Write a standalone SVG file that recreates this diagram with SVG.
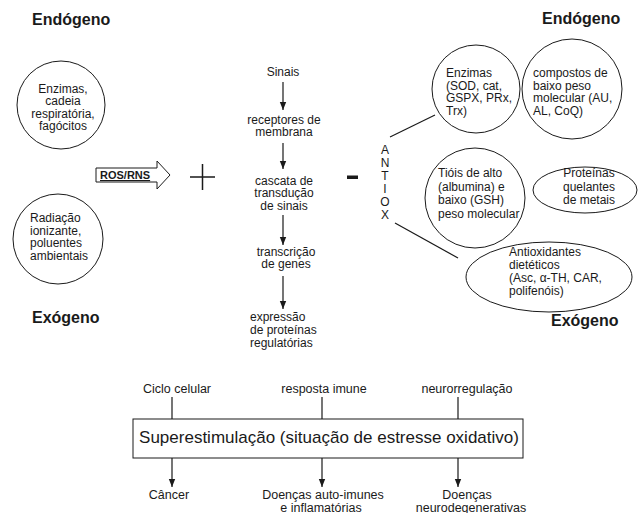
<svg xmlns="http://www.w3.org/2000/svg" width="641" height="513" viewBox="0 0 641 513">
<defs>
<style>
text{font-family:"Liberation Sans",Arial,sans-serif;fill:#1a1a1a}
.t{font-size:12px}
.c{font-size:12px;text-anchor:middle}
.h{font-size:16px;font-weight:bold}
.m{text-anchor:middle}
.s{fill:none;stroke:#1a1a1a;stroke-width:1}
.ln{stroke:#1a1a1a;stroke-width:1.2;fill:none}
</style>
<marker id="ah" viewBox="0 0 10 10" refX="10" refY="5" markerWidth="8" markerHeight="10" markerUnits="userSpaceOnUse" orient="auto">
<path d="M0,1 L10,5 L0,9 Z" fill="#1a1a1a"/>
</marker>
</defs>
<rect width="641" height="513" fill="#fff"/>

<text class="h" x="32" y="25">Endógeno</text>
<text class="h" x="32" y="323">Exógeno</text>
<text class="h" x="542" y="24">Endógeno</text>
<text class="h" x="551" y="326">Exógeno</text>

<g id="enzimas-left">
<circle class="s" cx="61" cy="105" r="44"/>
<text class="t m" x="63" y="92.5">Enzimas,</text>
<text class="t m" x="63" y="105">cadeia</text>
<text class="t m" x="63" y="117.5">respiratória,</text>
<text class="t m" x="63" y="130">fagócitos</text>
</g>

<g id="radiacao">
<circle class="s" cx="58" cy="239" r="45"/>
<text class="t" x="30" y="222">Radiação</text>
<text class="t" x="30" y="234.5">ionizante,</text>
<text class="t" x="30" y="247">poluentes</text>
<text class="t" x="30" y="259.5">ambientais</text>
</g>

<g id="ros">
<polygon class="s" points="96,168 157,168 157,161 170,175 157,189 157,182 96,182"/>
<text x="100" y="179" style="font-size:11px;font-weight:bold;text-decoration:underline">ROS/RNS</text>
</g>

<g id="plus"><path class="ln" d="M190,177 H215 M202.5,164 V190" style="stroke-width:1.5"/></g>
<g id="minus"><rect x="347" y="175.5" width="11" height="3.5" fill="#1a1a1a"/></g>

<g id="sinais"><text class="c" x="283" y="76">Sinais</text></g>
<g id="receptores"><text class="c" x="284" y="123.5">receptores de</text><text class="c" x="284" y="136">membrana</text></g>
<g id="cascata"><text class="c" x="284" y="184.5">cascata de</text><text class="c" x="284" y="197">transdução</text><text class="c" x="284" y="209.5">de sinais</text></g>
<g id="transcricao"><text class="c" x="286" y="255.5">transcrição</text><text class="c" x="286" y="268">de genes</text></g>
<g id="expressao"><text class="t" x="250" y="321">expressão</text><text class="t" x="250" y="334">de proteínas</text><text class="t" x="250" y="347">regulatórias</text></g>

<g id="antiox">
<text class="t m" x="385" y="154">A</text>
<text class="t m" x="385" y="167">N</text>
<text class="t m" x="385" y="180">T</text>
<text class="t m" x="385" y="193">I</text>
<text class="t m" x="385" y="206">O</text>
<text class="t m" x="385" y="219">X</text>
</g>

<g id="enzimas-right">
<circle class="s" cx="476" cy="89" r="44"/>
<text class="t" x="446" y="77">Enzimas</text>
<text class="t" x="446" y="89.5">(SOD, cat,</text>
<text class="t" x="446" y="102">GSPX, PRx,</text>
<text class="t" x="446" y="114.5">Trx)</text>
</g>

<g id="compostos">
<circle class="s" cx="572" cy="89" r="50"/>
<text class="t" x="533" y="77">compostos de</text>
<text class="t" x="533" y="89.5">baixo peso</text>
<text class="t" x="533" y="102">molecular (AU,</text>
<text class="t" x="533" y="114.5">AL, CoQ)</text>
</g>

<g id="tiois">
<circle class="s" cx="475" cy="198" r="50"/>
<text class="t" x="438" y="177">Tióis de alto</text>
<text class="t" x="438" y="190.5">(albumina) e</text>
<text class="t" x="438" y="204">baixo (GSH)</text>
<text class="t" x="438" y="217.5">peso molecular</text>
</g>

<g id="proteinas">
<ellipse class="s" cx="585" cy="190" rx="52" ry="23"/>
<text class="t m" x="589" y="177">Proteínas</text>
<text class="t m" x="589" y="190.5">quelantes</text>
<text class="t m" x="589" y="204">de metais</text>
</g>

<g id="dieteticos">
<ellipse class="s" cx="549" cy="277" rx="83" ry="35"/>
<text class="t" x="509" y="256">Antioxidantes</text>
<text class="t" x="509" y="269">dietéticos</text>
<text class="t" x="509" y="282">(Asc, α-TH, CAR,</text>
<text class="t" x="509" y="295">polifenóis)</text>
</g>

<g id="ciclo"><text class="t m" x="177" y="393" style="font-size:12.5px">Ciclo celular</text></g>
<g id="resposta"><text class="t m" x="324" y="393" style="font-size:12.5px">resposta imune</text></g>
<g id="neuro"><text class="t m" x="467" y="393" style="font-size:12.5px">neurorregulação</text></g>

<g id="superestimulacao">
<rect class="s" x="133" y="419" width="390" height="39"/>
<text class="m" x="329" y="443" style="font-size:17px">Superestimulação (situação de estresse oxidativo)</text>
</g>

<g id="cancer"><text class="t m" x="169" y="498.5" style="font-size:12.5px">Câncer</text></g>
<g id="autoimunes"><text class="t m" x="323" y="498.5" style="font-size:12.5px">Doenças auto-imunes</text><text class="t m" x="321" y="511.5" style="font-size:12.5px">e inflamatórias</text></g>
<g id="neurodeg"><text class="t m" x="467" y="498.5" style="font-size:12.5px">Doenças</text><text class="t m" x="471" y="511.5" style="font-size:12.5px">neurodegenerativas</text></g>

<g id="connectors">
<line class="ln" x1="283" y1="82" x2="283" y2="110" marker-end="url(#ah)"/>
<line class="ln" x1="283" y1="143" x2="283" y2="169" marker-end="url(#ah)"/>
<line class="ln" x1="283" y1="215" x2="283" y2="245" marker-end="url(#ah)"/>
<line class="ln" x1="283" y1="276" x2="283" y2="309" marker-end="url(#ah)"/>
<line class="ln" x1="390" y1="137" x2="435" y2="115"/>
<line class="ln" x1="395" y1="223" x2="458" y2="258"/>
<line class="ln" x1="172" y1="397" x2="172" y2="419"/>
<line class="ln" x1="322" y1="397" x2="322" y2="419"/>
<line class="ln" x1="458" y1="397" x2="458" y2="419"/>
<line class="ln" x1="172" y1="458" x2="172" y2="487" marker-end="url(#ah)"/>
<line class="ln" x1="322" y1="458" x2="322" y2="487" marker-end="url(#ah)"/>
<line class="ln" x1="458" y1="458" x2="458" y2="487" marker-end="url(#ah)"/>
</g>
</svg>
